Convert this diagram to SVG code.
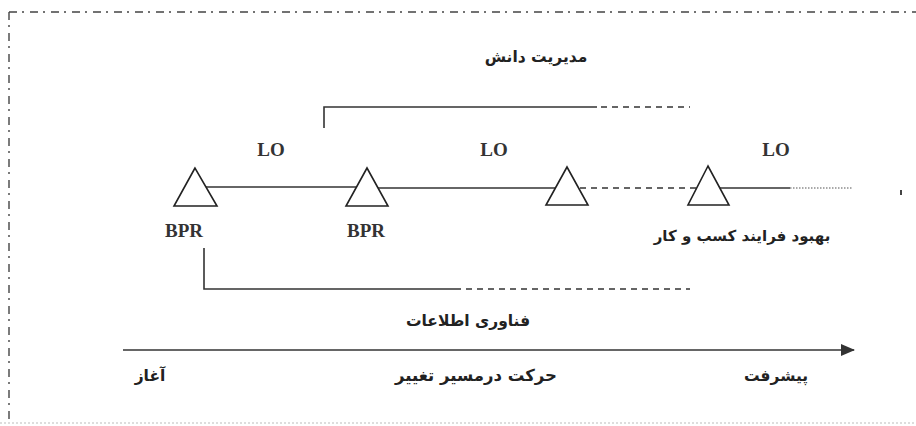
<svg xmlns="http://www.w3.org/2000/svg" width="916" height="426" viewBox="0 0 916 426">
<style>
.ln{stroke:#333;stroke-width:1.6;fill:none}
.dash{stroke:#333;stroke-width:1.6;fill:none;stroke-dasharray:6 5}
.dot{stroke:#555;stroke-width:1.2;fill:none;stroke-dasharray:1.5 1.5}
.tri{stroke:#222;stroke-width:1.6;fill:#fff;stroke-linejoin:miter}
.lat{font-family:"Liberation Serif","Times New Roman",serif;font-weight:bold;font-size:19px;fill:#333;text-anchor:middle}
.fa{font-family:"DejaVu Sans","Noto Sans",sans-serif;font-weight:bold;font-size:15.5px;fill:#222;text-anchor:middle}
.border{stroke:#444;stroke-width:1.4;fill:none;stroke-dasharray:8 5 2 6}
</style>
<defs>
<marker id="ah" markerWidth="14" markerHeight="12" refX="13" refY="6" orient="auto" markerUnits="userSpaceOnUse">
<path d="M0,0 L14,6 L0,12 Z" fill="#333"/>
</marker>
</defs>
<rect width="916" height="426" fill="#fff"/>
<g id="frame">
<line class="border" x1="9" y1="12" x2="916" y2="12"/>
<line class="border" x1="9" y1="12" x2="9" y2="422"/>
<line x1="0" y1="423" x2="916" y2="423" stroke="#bbb" stroke-width="1" stroke-dasharray="2 2"/>
<rect x="900" y="190" width="2" height="5" fill="#444"/>
</g>
<g id="connectors">
<polyline class="ln" points="324,128 324,107 597,107"/>
<line class="dash" x1="601" y1="107" x2="690" y2="107"/>
<line class="ln" x1="206" y1="187" x2="357" y2="187"/>
<line class="ln" x1="378" y1="188" x2="557" y2="188"/>
<line class="dash" x1="580" y1="188" x2="697" y2="188"/>
<line class="ln" x1="719" y1="188" x2="790" y2="188"/>
<line class="dot" x1="790" y1="188" x2="852" y2="188"/>
<polyline class="ln" points="204,248 204,289 461,289"/>
<line class="dash" x1="466" y1="289" x2="690" y2="289"/>
<line class="ln" x1="123" y1="350" x2="854" y2="350" marker-end="url(#ah)"/>
</g>
<g id="node-km"><text class="fa" x="536" y="62">مدیریت دانش</text></g>
<g id="node-lo1"><text class="lat" x="271" y="156">LO</text></g>
<g id="node-lo2"><text class="lat" x="494" y="156">LO</text></g>
<g id="node-lo3"><text class="lat" x="776" y="156">LO</text></g>
<g id="node-t1"><polygon class="tri" points="195,168 174,206 217,206"/></g>
<g id="node-t2"><polygon class="tri" points="367,168 346,206 388,206"/></g>
<g id="node-t3"><polygon class="tri" points="567,167 546,205 588,205"/></g>
<g id="node-t4"><polygon class="tri" points="708,166 688,205 729,205"/></g>
<g id="node-bpr1"><text class="lat" x="184" y="237">BPR</text></g>
<g id="node-bpr2"><text class="lat" x="366" y="237">BPR</text></g>
<g id="node-bpi"><text class="fa" x="742" y="241" style="font-size:15px">بهبود فرایند کسب و کار</text></g>
<g id="node-it"><text class="fa" x="468" y="326">فناوری اطلاعات</text></g>
<g id="node-start"><text class="fa" x="150" y="381">آغاز</text></g>
<g id="node-move"><text class="fa" x="476" y="381" style="font-size:16.5px">حرکت درمسیر تغییر</text></g>
<g id="node-progress"><text class="fa" x="776" y="381">پیشرفت</text></g>
</svg>
